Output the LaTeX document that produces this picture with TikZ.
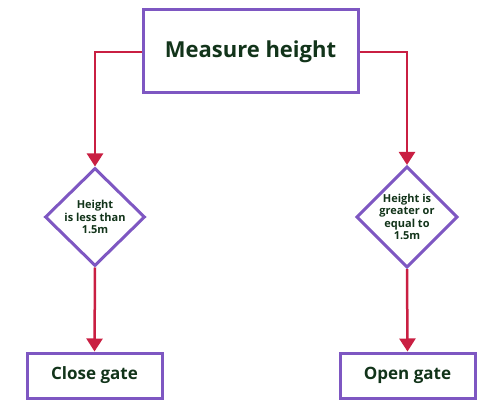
\documentclass[tikz,border=0pt]{standalone}
\usepackage{fontspec}
\setmainfont{Open Sans}
\usetikzlibrary{shapes.geometric,arrows.meta}
\definecolor{boxpurple}{HTML}{7E57C2}
\definecolor{linered}{HTML}{C91F42}
\definecolor{txtgreen}{HTML}{12341A}
\tikzset{
  x=1pt,y=1pt,
  box/.style={draw=boxpurple,line width=3pt,fill=white,inner sep=0pt,text=txtgreen,font=\bfseries},
  decision/.style={diamond,draw=boxpurple,line width=3pt,fill=white,inner sep=0pt,minimum width=100pt,minimum height=98pt,text=txtgreen,font=\bfseries\fontsize{11}{12.5}\selectfont,align=center},
  conn/.style={draw=linered,line width=2.5pt,-{Triangle[length=13pt,width=16pt]}}
}
\begin{document}
\begin{tikzpicture}
\useasboundingbox (0,0) rectangle (492,407);
\node[box,minimum width=215pt,minimum height=83pt,font=\bfseries\fontsize{22}{26}\selectfont] (m) at (250.5,355.5) {Measure height};
\node[decision] (dl) at (95,190) {Height\\is less than\\1.5m};
\node[decision] (dr) at (407,190) {Height is\\greater or\\equal to\\1.5m};
\node[box,minimum width=135pt,minimum height=45pt,font=\bfseries\fontsize{17}{20}\selectfont] (cg) at (94.5,31.5) {Close gate};
\node[box,minimum width=135pt,minimum height=45pt,font=\bfseries\fontsize{17}{20}\selectfont] (og) at (407.5,31.5) {Open gate};
\draw[conn] (m.west |- 0,355) -- (95,355) -- (dl.north);
\draw[conn] (m.east |- 0,355) -- (407,355) -- (dr.north);
\draw[conn] (dl.south) -- (cg.north);
\draw[conn] (dr.south) -- (og.north);
\end{tikzpicture}
\end{document}
